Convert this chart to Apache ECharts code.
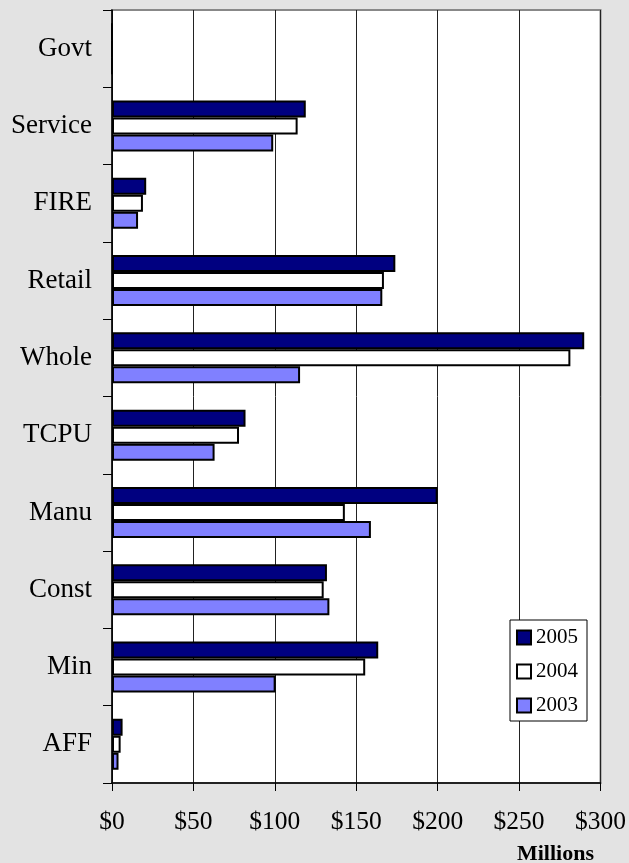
<!DOCTYPE html>
<html>
<head>
<meta charset="utf-8">
<script src="https://cdn.jsdelivr.net/npm/echarts@6/dist/echarts.min.js"></script>
<style>
  html, body { margin: 0; padding: 0; background: #e3e3e3; }
  #chart { width: 629px; height: 863px; }
</style>
</head>
<body>
<div id="chart"></div>
<script>
// Industry categories, listed bottom to top
const categories = ['AFF', 'Min', 'Const', 'Manu', 'TCPU', 'Whole', 'Retail', 'FIRE', 'Service', 'Govt'];

// Values in millions of dollars
const values2003 = [4, 100.5, 133.5, 159, 63, 115.5, 166, 16, 99, 0];
const values2004 = [5.3, 155.5, 130, 143, 78, 281.5, 167, 19, 114, 0];
const values2005 = [6.5, 163.5, 132, 200, 82, 290, 174, 21, 119, 0];

const xTicks = { min: 0, max: 300, step: 50 };
const legendOrder = ['2005', '2004', '2003'];

const serif = '"Liberation Serif", "Times New Roman", serif';

const chart = echarts.init(document.getElementById('chart'));

function barSeries(name, data, color) {
  return {
    name: name,
    type: 'bar',
    data: data,
    barGap: '0%',
    barCategoryGap: '34%',
    itemStyle: { color: color, borderColor: '#000', borderWidth: 2 },
    emphasis: { disabled: true },
    animation: false
  };
}

chart.setOption({
  backgroundColor: '#e3e3e3',
  animation: false,
  title: {
    text: 'Millions',
    right: 30,
    top: 838,
    textStyle: { fontFamily: serif, fontSize: 22, fontWeight: 'bold', color: '#000' }
  },
  legend: {
    data: legendOrder,
    orient: 'vertical',
    left: 510,
    top: 620,
    padding: [7, 9, 5, 6],
    itemGap: 13,
    itemWidth: 14,
    itemHeight: 14,
    icon: 'rect',
    backgroundColor: '#fff',
    borderColor: '#000',
    borderWidth: 1,
    borderRadius: 0,
    itemStyle: { borderColor: '#000', borderWidth: 2 },
    textStyle: { fontFamily: serif, fontSize: 21, color: '#000', lineHeight: 20 }
  },
  grid: {
    left: 112,
    right: 27,
    top: 10,
    bottom: 80,
    show: true,
    backgroundColor: '#fff',
    borderColor: '#888',
    borderWidth: 2
  },
  xAxis: {
    type: 'value',
    min: xTicks.min,
    max: xTicks.max,
    interval: xTicks.step,
    axisLine: { show: true, lineStyle: { color: '#000', width: 1.5 } },
    axisTick: { show: true, inside: false, length: 8, lineStyle: { color: '#000' } },
    axisLabel: {
      margin: 26,
      fontFamily: serif,
      fontSize: 25.5,
      color: '#000',
      formatter: v => '$' + v
    },
    splitLine: { show: true, lineStyle: { color: '#222', width: 1 } }
  },
  yAxis: {
    type: 'category',
    data: categories,
    axisLine: { show: true, lineStyle: { color: '#000', width: 1.5 } },
    axisTick: { show: true, inside: false, length: 9, lineStyle: { color: '#000' } },
    axisLabel: { margin: 20, fontFamily: serif, fontSize: 27, color: '#000' },
    splitLine: { show: false }
  },
  // Series listed top-to-bottom within each category group
  series: [
    barSeries('2005', values2005, '#000080'),
    barSeries('2004', values2004, '#ffffff'),
    barSeries('2003', values2003, '#8080ff')
  ]
});
</script>
</body>
</html>
